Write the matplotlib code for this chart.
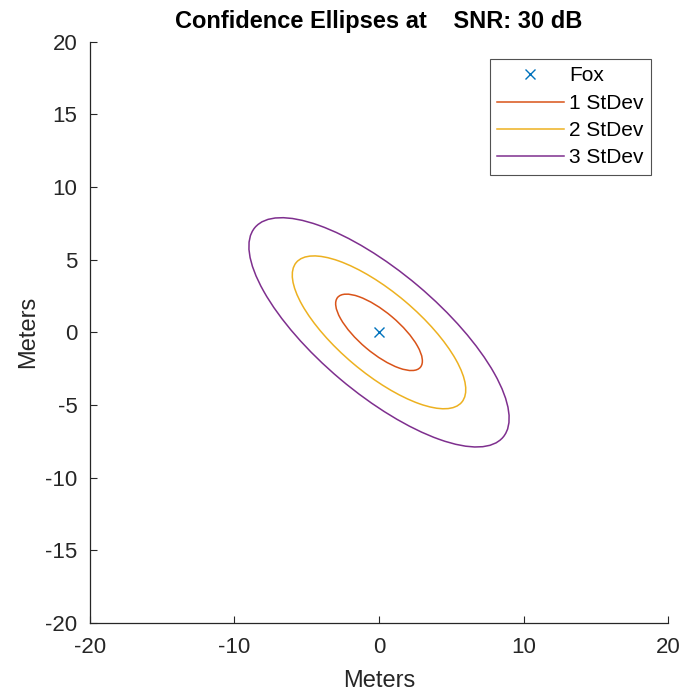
import numpy as np
import matplotlib
matplotlib.use("Agg")
import matplotlib.pyplot as plt
from matplotlib.patches import Ellipse
from matplotlib.lines import Line2D

# Data
fox_pos = [0.0, 0.0]
sigma_x = 3.0
sigma_y = 2.63
rho = -0.75
n_std = [1, 2, 3]
labels = ["1 StDev", "2 StDev", "3 StDev"]
colors = ["#D95319", "#EDB120", "#7E2F8E"]
fox_color = "#0072BD"
ticks = [-20, -10, 0, 10, 20]
yticks = [-20, -15, -10, -5, 0, 5, 10, 15, 20]

plt.rcParams['font.family'] = ['Liberation Sans', 'DejaVu Sans']
plt.rcParams['axes.unicode_minus'] = False

cov = np.array([[sigma_x**2, rho*sigma_x*sigma_y],
                [rho*sigma_x*sigma_y, sigma_y**2]])
vals, vecs = np.linalg.eigh(cov)
angle = np.degrees(np.arctan2(vecs[1, 1], vecs[0, 1]))

fig = plt.figure(figsize=(6.86, 6.96), dpi=100)
ax = fig.add_axes([0.131, 0.105, 0.843, 0.835])

ax.plot(fox_pos[0], fox_pos[1], 'x', color=fox_color, markersize=7, mew=1.0)
handles = [Line2D([], [], ls='none', marker='x', color=fox_color, markersize=7, mew=1.0)]
for k, c in zip(n_std, colors):
    e = Ellipse(fox_pos, width=2*k*np.sqrt(vals[1]), height=2*k*np.sqrt(vals[0]),
                angle=angle, fill=False, edgecolor=c, lw=1.1)
    ax.add_patch(e)
    handles.append(Line2D([], [], color=c, lw=1.1))

ax.set_xlim(-20, 20)
ax.set_ylim(-20, 20)
ax.set_xticks(ticks)
ax.set_yticks(yticks)
ax.tick_params(direction='in', length=5, width=0.8, labelsize=16, colors='#262626')
ax.tick_params(axis='x', pad=10)
ax.tick_params(axis='y', pad=9)
for s in ['top', 'right']:
    ax.spines[s].set_visible(False)
for s in ['left', 'bottom']:
    ax.spines[s].set_color('#262626')
    ax.spines[s].set_linewidth(0.9)

ax.set_xlabel("Meters", fontsize=17, color='#262626', labelpad=9)
ax.set_ylabel("Meters", fontsize=17, color='#262626', labelpad=4)
ax.set_title("Confidence Ellipses at    SNR: 30 dB", fontsize=17, fontweight='bold', pad=10)

leg = ax.legend(handles, ["Fox"] + labels, loc='upper right', bbox_to_anchor=(0.97, 0.97),
                fontsize=15, frameon=True, fancybox=False, edgecolor='#262626',
                handlelength=3.2, handletextpad=0.25, labelspacing=0.4, borderpad=0.35,
                borderaxespad=0)
leg.get_frame().set_linewidth(0.8)

fig.savefig("out.png", dpi=100)
